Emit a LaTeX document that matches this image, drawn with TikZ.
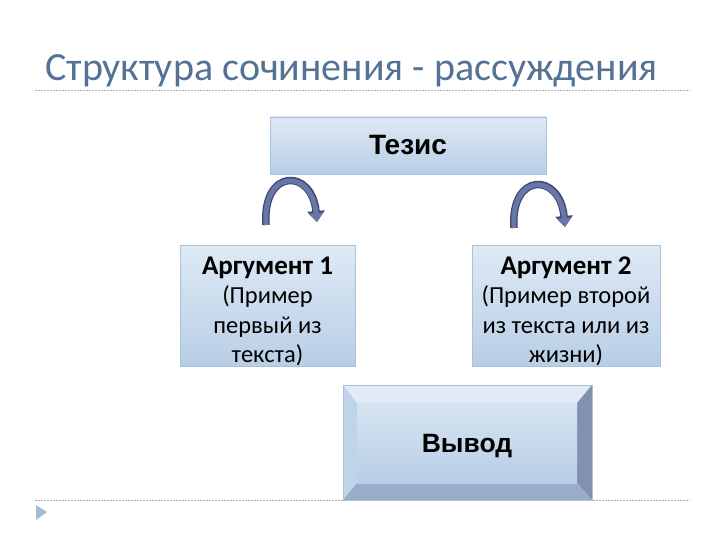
\documentclass[tikz,border=0pt]{standalone}
\usepackage{fontspec}
\newfontfamily\calibri{Carlito}
\newfontfamily\arial{Liberation Sans}
\usetikzlibrary{arrows.meta}

\definecolor{titleblue}{RGB}{84,114,148}
\definecolor{boxtop}{RGB}{222,233,245}
\definecolor{boxbot}{RGB}{184,206,230}
\definecolor{boxline}{RGB}{170,192,215}
\definecolor{arcfill}{RGB}{104,118,168}
\definecolor{arcline}{RGB}{62,72,112}
\definecolor{rulegray}{RGB}{170,175,180}

\tikzset{
  glassbox/.style={rectangle, draw=boxline, line width=0.6pt,
    top color=boxtop, bottom color=boxbot, inner sep=0pt},
  argbox/.style={glassbox, minimum height=119pt, align=center,
    font=\calibri\fontsize{24.5}{29.5}\selectfont},
  bendarrow/.style={line width=5pt, draw=arcfill, -{Triangle[length=9pt,width=14pt]},
    preaction={draw=arcline, line width=7.5pt, -{Triangle[length=11pt,width=17pt]}}},
  pagerule/.style={rulegray, dashed, dash pattern=on 2pt off 1pt, line width=0.6pt}
}
\newcommand{\arghead}[1]{{\rule{0pt}{29pt}\fontsize{27}{29.5}\selectfont\bfseries #1}}

\begin{document}
\begin{tikzpicture}[x=1pt,y=-1pt]
\fill[white] (0,0) rectangle (720,540);
\useasboundingbox (0,0) rectangle (720,540);
% title and rules
\node (title) [anchor=base west, inner sep=0pt, text=titleblue,
  font=\calibri\fontsize{40}{44}\selectfont] at (45,81) {Структура сочинения - рассуждения};
\draw[pagerule] (35,90) -- (690,90);
\draw[pagerule] (35,500) -- (690,500);
\fill[boxbot!80!titleblue] (36,505) -- (47,512) -- (36,520) -- cycle;
% boxes
\node (tezis) [glassbox, minimum width=276pt, minimum height=57pt,
  font=\arial\bfseries\fontsize{28}{30}\selectfont] at (408,145.5) {Тезис};
\node (arg1) [argbox, minimum width=175pt] at (267.5,305.5)
  {\arghead{Аргумент 1}\\(Пример\\первый из\\текста)};
\node (arg2) [argbox, minimum width=188pt] at (566,305.5)
  {\arghead{Аргумент 2}\\(Пример второй\\из текста или из\\жизни)};
% bevelled box
\coordinate (vo1) at (343,385); \coordinate (vo2) at (592,385);
\coordinate (vo3) at (592,500); \coordinate (vo4) at (343,500);
\coordinate (vi1) at (357,403); \coordinate (vi2) at (577,403);
\coordinate (vi3) at (577,483); \coordinate (vi4) at (357,483);
\fill[boxtop!90!white] (vo1) -- (vo2) -- (vi2) -- (vi1) -- cycle;
\fill[boxbot!90!white] (vo1) -- (vi1) -- (vi4) -- (vo4) -- cycle;
\fill[boxbot!55!arcline] (vo2) -- (vo3) -- (vi3) -- (vi2) -- cycle;
\fill[boxbot!75!arcline] (vo4) -- (vi4) -- (vi3) -- (vo3) -- cycle;
\node (vyvod) [glassbox, draw=none, top color=boxtop!80!boxbot,
  minimum width=220pt, minimum height=80pt, text depth=-4pt,
  font=\arial\bfseries\fontsize{26.5}{28}\selectfont] at (467,443) {Вывод};
\draw[boxline] (vo1) -- (vo2) -- (vo3) -- (vo4) -- cycle;
% curved arrows
\coordinate (l1) at (266,225); \coordinate (l2) at (317,222);
\coordinate (r1) at (514,228); \coordinate (r2) at (565,227);
\draw[bendarrow] (l1) .. controls (262,168) and (312,168) .. (l2);
\draw[bendarrow] (r1) .. controls (510,172) and (560,172) .. (r2);
\end{tikzpicture}
\end{document}
